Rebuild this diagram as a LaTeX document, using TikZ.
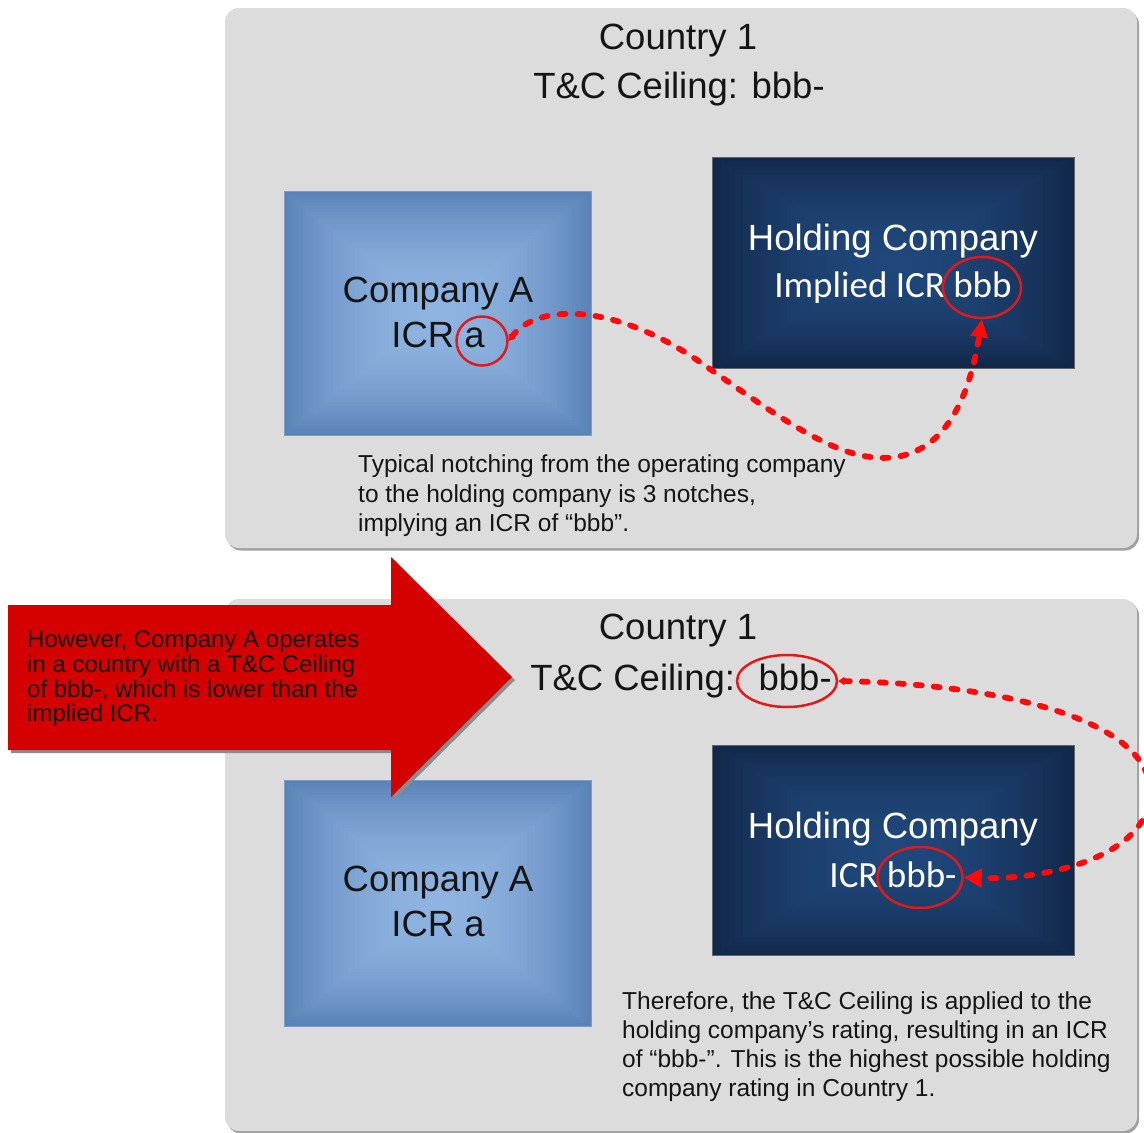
\documentclass[tikz,border=0pt]{standalone}
\usepackage{fontspec}
\setmainfont{Liberation Sans}
\newfontfamily\calibfont{Carlito}
\usetikzlibrary{arrows.meta,shapes.geometric,shadows,calc}
\definecolor{panelgray}{HTML}{DCDCDC}
\definecolor{blueout}{HTML}{5A83B7}
\definecolor{bluein}{HTML}{8FB4E1}
\definecolor{navyout}{HTML}{12284A}
\definecolor{navyin}{HTML}{1F477A}
\definecolor{arrowred}{HTML}{D50000}
\definecolor{ringred}{HTML}{E0191B}
\definecolor{dashred}{HTML}{FF0A0A}
\definecolor{inktext}{HTML}{151515}
\tikzset{
  panel/.style={rectangle, rounded corners=14pt, fill=panelgray, draw=none,
    drop shadow={shadow xshift=2pt, shadow yshift=-2.5pt, fill=black!37, opacity=1}},
  gradbox/.style 2 args={rectangle, inner sep=0pt, draw=none,
    path picture={
      \path (path picture bounding box.south west) coordinate (pSW)
            (path picture bounding box.north east) coordinate (pNE);
      \foreach \i in {0,...,40}{
        \pgfmathsetmacro\rgt{\i/82}
        \pgfmathtruncatemacro\rgpc{100*(1-(1-2*\rgt)^2)}
        \fill[#2!\rgpc!#1] ($(pSW)!\rgt!(pNE)$) rectangle ($(pNE)!\rgt!(pSW)$);
      }}},
  compbox/.style={gradbox={blueout}{bluein}, draw=blueout!80!white, line width=0.8pt},
  holdbox/.style={gradbox={navyout}{navyin}, draw=gray!70!navyout, line width=0.8pt},
  big/.style={font=\fontsize{36.5}{40}\selectfont, anchor=base, inner sep=0pt, text=inktext},
  bigw/.style={font=\fontsize{36.5}{40}\selectfont, anchor=base, inner sep=0pt, text=white},
  bigwc/.style={font=\calibfont\fontsize{37}{40}\selectfont, anchor=base, inner sep=0pt, text=white},
  small/.style={font=\fontsize{24.5}{28}\selectfont, anchor=base west, inner sep=0pt, text=inktext},
  redtxt/.style={font=\fontsize{24}{26}\selectfont, anchor=base west, inner sep=0pt, text=black!92},
  ring/.style={ellipse, draw=ringred, line width=2.5pt, inner sep=0pt, fill=none},
  flow/.style={draw=dashred, line width=5.8pt, dash pattern=on 6pt off 12pt, line cap=round},
}
\begin{document}
\begin{tikzpicture}[x=1pt,y=-1pt]
\useasboundingbox (0,0) rectangle (1144,1133);
\clip (0,0) rectangle (1144,1133);

% panels
\node[panel, minimum width=912pt, minimum height=540pt] (p1) at (681,278) {};
\node[panel, minimum width=912pt, minimum height=532pt] (p2) at (681,865) {};

% boxes
\node[compbox, minimum width=307pt, minimum height=244pt] (ca1) at (437.5,313) {};
\node[holdbox, minimum width=362pt, minimum height=211pt] (hc1) at (893,262.5) {};
\node[compbox, minimum width=307pt, minimum height=246pt] (ca2) at (437.5,903) {};
\node[holdbox, minimum width=362pt, minimum height=210pt] (hc2) at (893,850) {};

% top panel texts
\node[big] (c1a) at (678,49) {Country 1};
\node[big] (c1b) at (679,98) {T\&C Ceiling: bbb-};
\node[big] (ca1a) at (438,302) {Company A};
\node[big] (ca1b) at (438,347) {ICR a};
\node[bigw] (hc1a) at (893,250) {Holding Company};
\node[bigwc] (hc1b) at (893,297) {Implied ICR bbb};
\node[small] (t1) at (358,472) {Typical notching from the operating company};
\node[small] (t2) at (358,502) {to the holding company is 3 notches,};
\node[small] (t3) at (358,531) {implying an ICR of “bbb”.};

% bottom panel texts
\node[big] (c2a) at (678,639) {Country 1};
\node[big] (c2b) at (681,690) {T\&C Ceiling:\hspace{10pt} bbb-};
\node[big] (ca2a) at (438,891) {Company A};
\node[big] (ca2b) at (438,936) {ICR a};
\node[bigw] (hc2a) at (893,838) {Holding Company};
\node[bigwc] (hc2b) at (893,887) {ICR bbb-};
\node[small] (r1) at (622,1009) {Therefore, the T\&C Ceiling is applied to the};
\node[small] (r2) at (622,1038) {holding company’s rating, resulting in an ICR};
\node[small] (r3) at (622,1067) {of “bbb-”. This is the highest possible holding};
\node[small] (r4) at (622,1096) {company rating in Country 1.};

% rings
\node[ring, minimum width=51pt, minimum height=49pt] (ea) at (482,341) {};
\node[ring, minimum width=78pt, minimum height=61pt] (eb) at (982,287.5) {};
\node[ring, minimum width=100pt, minimum height=52pt] (ec) at (787,681) {};
\node[ring, minimum width=85pt, minimum height=61pt] (ed) at (920,877.5) {};

% dashed connectors
\draw[flow, {Triangle[length=6pt,width=8pt]}-{Triangle[length=18pt,width=17pt]}]
  (ea.east) .. controls (535,305) and (610,300) .. (700,362)
  .. controls (790,425) and (850,470) .. (905,455)
  .. controls (955,441) and (972,380) .. (eb.south);
\draw[flow, {Triangle[length=6pt,width=8pt]}-{Triangle[length=18pt,width=18pt]}]
  (ec.east) .. controls (1000,684) and (1160,720) .. (1150,800)
  .. controls (1140,860) and (1040,880) .. (ed.east);

% red arrow
\fill[arrowred, drop shadow={shadow xshift=3pt, shadow yshift=-3pt, fill=black!45, opacity=1}]
  (8,605) -- (391,605) -- (391,557) -- (512,677) -- (391,797) -- (391,750) -- (8,750) -- cycle;
\node[redtxt] (a1) at (27,647) {However, Company A operates};
\node[redtxt] (a2) at (27,672) {in a country with a T\&C Ceiling};
\node[redtxt] (a3) at (27,697) {of bbb-, which is lower than the};
\node[redtxt] (a4) at (27,721) {implied ICR.};
\end{tikzpicture}
\end{document}
